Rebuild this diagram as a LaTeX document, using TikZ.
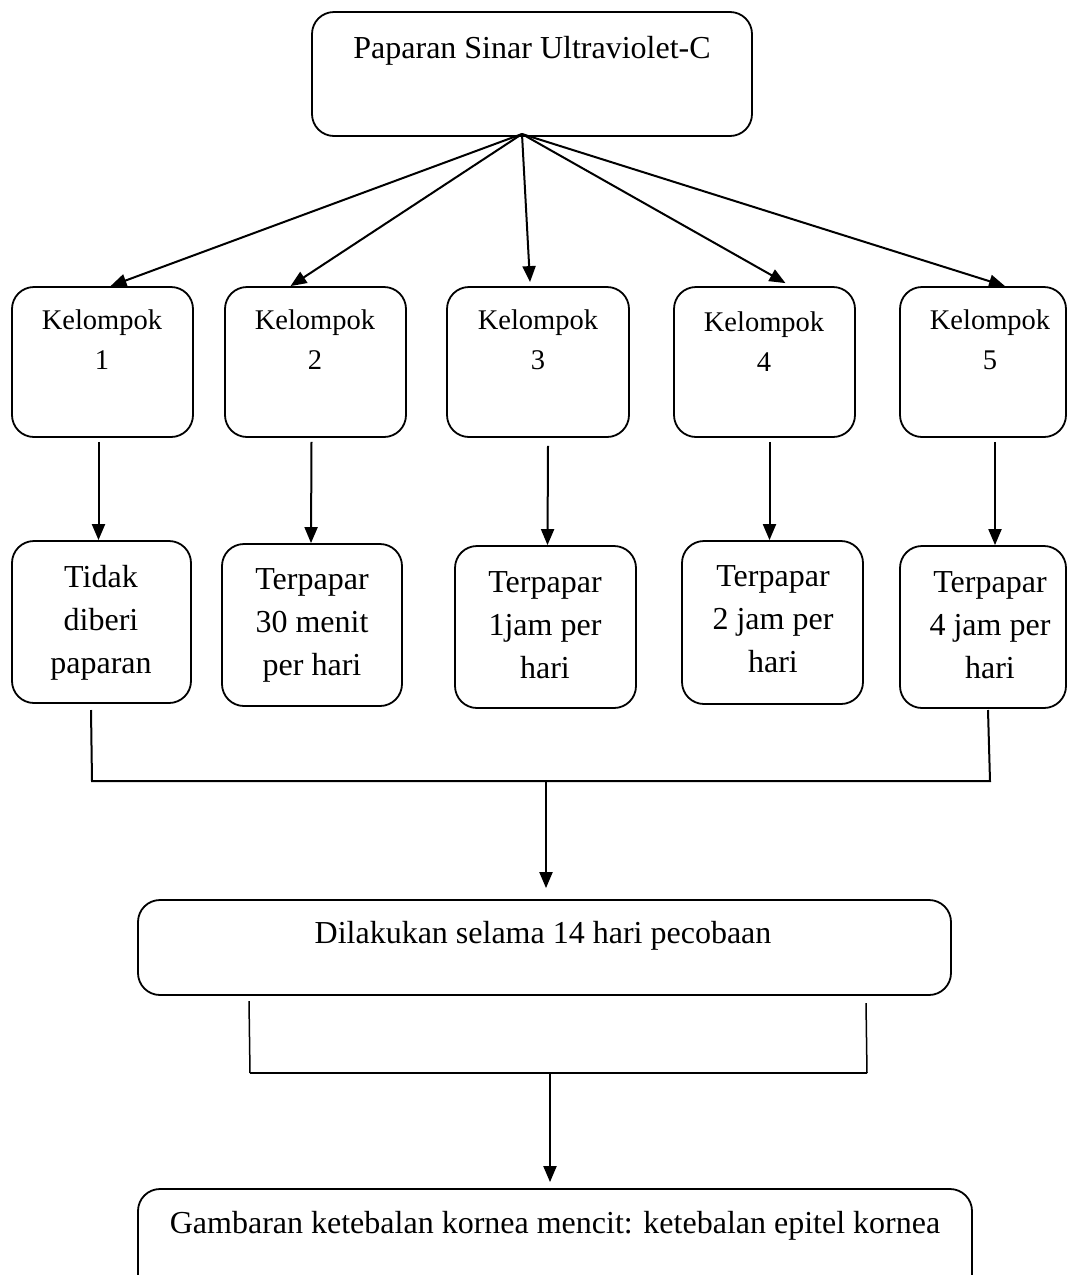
\documentclass[tikz,border=0pt]{standalone}
\usepackage{fontspec}
\setmainfont{Liberation Serif}
\usetikzlibrary{arrows.meta}
\begin{document}
\begin{tikzpicture}[x=1pt,y=-1pt,
  box/.style={draw,line width=1.8pt,rounded corners=22pt,inner sep=0pt},
  big/.style={inner sep=0pt,anchor=north,align=center,font=\fontsize{32}{43}\selectfont},
  small/.style={inner sep=0pt,anchor=north,align=center,font=\fontsize{28.5}{40}\selectfont},
  arr/.style={line width=2pt,-{Triangle[length=16pt,width=13pt]}},
  ln/.style={line width=2pt}]
\useasboundingbox (0,0) rectangle (1068,1275);
% top box
\node[box,minimum width=440pt,minimum height=124pt] (top) at (532,74) {};
\node[big] (toptxt) at (532,36) {Paparan Sinar Ultraviolet-C};
\coordinate (src) at (522,134);
% Kelompok boxes
\node[box,minimum width=181pt,minimum height=150pt] (k1) at (102.5,362) {};
\node[box,minimum width=181pt,minimum height=150pt] (k2) at (315.5,362) {};
\node[box,minimum width=182pt,minimum height=150pt] (k3) at (538,362) {};
\node[box,minimum width=181pt,minimum height=150pt] (k4) at (764.5,362) {};
\node[box,minimum width=166pt,minimum height=150pt] (k5) at (983,362) {};
\node[small] (k1t) at (102,310) {Kelompok\\1};
\node[small] (k2t) at (315,310) {Kelompok\\2};
\node[small] (k3t) at (538,310) {Kelompok\\3};
\node[small] (k4t) at (764,312) {Kelompok\\4};
\node[small] (k5t) at (990,310) {Kelompok\\5};
\draw[arr] (src) -- ([xshift=8pt]k1.north);
\draw[arr] (src) -- ([xshift=-25pt]k2.north);
\draw[arr] (src) -- ([xshift=-8pt,yshift=4pt]k3.north);
\draw[arr] (src) -- ([xshift=21pt,yshift=3pt]k4.north);
\draw[arr] (src) -- ([xshift=22pt]k5.north);
% second row
\node[box,minimum width=179pt,minimum height=162pt] (b1) at (101.5,622) {};
\node[box,minimum width=180pt,minimum height=162pt] (b2) at (312,625) {};
\node[box,minimum width=181pt,minimum height=162pt] (b3) at (545.5,627) {};
\node[box,minimum width=181pt,minimum height=163pt] (b4) at (772.5,622.5) {};
\node[box,minimum width=166pt,minimum height=162pt] (b5) at (983,627) {};
\node[big] (b1t) at (101,565) {Tidak\\diberi\\paparan};
\node[big] (b2t) at (312,568) {Terpapar\\30 menit\\per hari};
\node[big] (b3t) at (545,571) {Terpapar\\1jam per\\hari};
\node[big] (b4t) at (773,565) {Terpapar\\2 jam per\\hari};
\node[big] (b5t) at (990,571) {Terpapar\\4 jam per\\hari};
\draw[arr] ([xshift=-4pt,yshift=-4pt]k1.south) -- ([xshift=-3pt]b1.north);
\draw[arr] ([xshift=-4pt,yshift=-4pt]k2.south) -- ([xshift=-1pt]b2.north);
\draw[arr] ([xshift=10pt,yshift=-8pt]k3.south) -- ([xshift=2pt]b3.north);
\draw[arr] ([xshift=5pt,yshift=-4pt]k4.south) -- ([xshift=-3pt]b4.north);
\draw[arr] ([xshift=12pt,yshift=-4pt]k5.south) -- ([xshift=12pt]b5.north);
% bracket 1
\coordinate (l1a) at (91,710);
\coordinate (l1b) at (92,781);
\coordinate (r1a) at (988,710);
\coordinate (r1b) at (990,781);
\coordinate (m1) at (546,781);
\draw[ln] (l1a) -- (l1b) -- (r1b) -- (r1a);
% Dilakukan box
\node[box,minimum width=813pt,minimum height=95pt] (d) at (544.5,947.5) {};
\node[big] (dt) at (543,921) {Dilakukan selama 14 hari pecobaan};
\draw[arr] (m1) -- ([xshift=1.5pt,yshift=11pt]d.north);
% bracket 2
\coordinate (l2a) at (249,1001);
\coordinate (l2b) at (250,1073);
\coordinate (r2a) at (866,1003);
\coordinate (r2b) at (867,1073);
\coordinate (m2) at (550,1073);
\draw[line width=1.5pt] (l2a) -- (l2b);
\draw[line width=1.5pt] (r2a) -- (r2b);
\draw[ln] (l2b) -- (r2b);
% final box
\node[box,minimum width=834pt,minimum height=110pt] (g) at (555,1244) {};
\node[big] (gt) at (555,1211) {Gambaran ketebalan kornea mencit: ketebalan epitel kornea};
\draw[arr] (m2) -- ([xshift=-5pt,yshift=6pt]g.north);
\end{tikzpicture}
\end{document}
